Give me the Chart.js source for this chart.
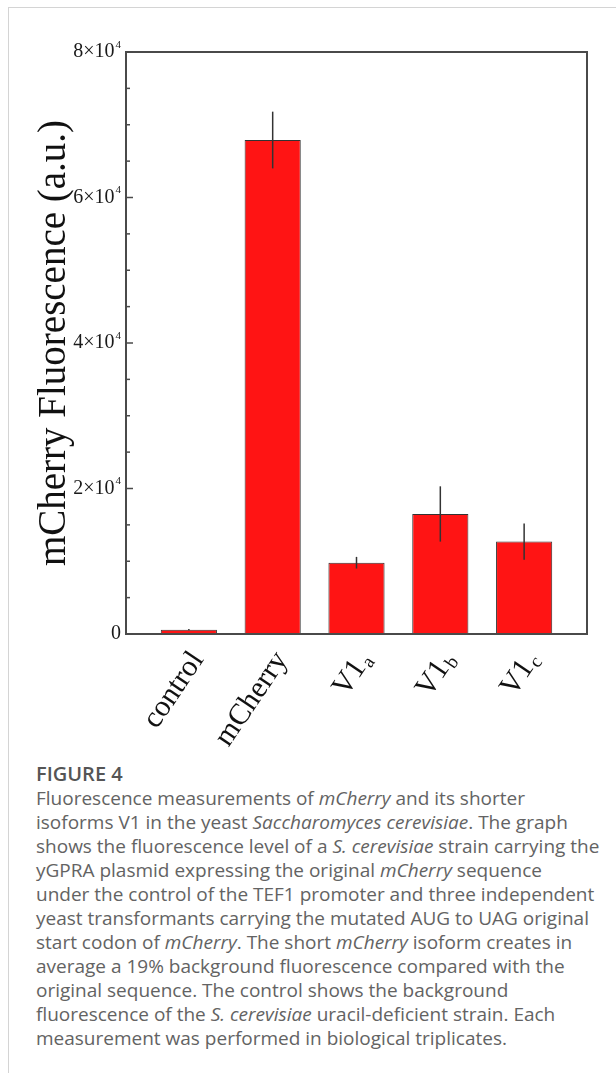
<!DOCTYPE html>
<html>
<head>
<meta charset="utf-8">
<script src="https://cdn.jsdelivr.net/npm/chart.js@4.4.1/dist/chart.umd.min.js"></script>
<style>
  html, body { margin: 0; padding: 0; background: #fff; }
  body { width: 616px; height: 1073px; position: relative; overflow: hidden; }
  .card { position: absolute; left: 8px; top: 7px; right: 0; bottom: 0;
          border-top: 1px solid #d4d4d4; border-left: 1px solid #d4d4d4; }
  #wrap { position: absolute; left: 0; top: 0; width: 616px; height: 760px; }
  .caption { position: absolute; left: 36px; top: 762px; font-family: 'Open Sans', sans-serif;
             color: #636363; font-size: 19px; line-height: 24px; white-space: nowrap; }
  .caption .fig { font-weight: 600; font-size: 20px; color: #555; }
</style>
</head>
<body>
<div class="card"></div>
<div id="wrap"><canvas id="grafico" width="616" height="760"></canvas></div>
<div class="caption">
  <div class="fig">FIGURE 4</div>
  <div>Fluorescence measurements of <i>mCherry</i> and its shorter</div>
  <div>isoforms V1 in the yeast <i>Saccharomyces cerevisiae</i>. The graph</div>
  <div>shows the fluorescence level of a <i>S. cerevisiae</i> strain carrying the</div>
  <div>yGPRA plasmid expressing the original <i>mCherry</i> sequence</div>
  <div>under the control of the TEF1 promoter and three independent</div>
  <div>yeast transformants carrying the mutated AUG to UAG original</div>
  <div>start codon of <i>mCherry</i>. The short <i>mCherry</i> isoform creates in</div>
  <div>average a 19% background fluorescence compared with the</div>
  <div>original sequence. The control shows the background</div>
  <div>fluorescence of the <i>S. cerevisiae</i> uracil-deficient strain. Each</div>
  <div>measurement was performed in biological triplicates.</div>
</div>
<script>
// dados
const categorias = ['control', 'mCherry', 'V1', 'V1', 'V1'];
const subscritos = ['', '', 'a', 'b', 'c'];
const fluorescencia = [600, 67900, 9800, 16500, 12700];
const erros = [100, 3900, 800, 3800, 2500];
const ticksMaiores = [0, 20000, 40000, 60000, 80000];
const rotulosY = ['0', '2×10', '4×10', '6×10', '8×10'];
const expoentesY = ['', '4', '4', '4', '4'];

const SERIF = "'Liberation Serif', 'Times New Roman', serif";

// moldura, barras de erro, ticks internos e rótulos dos eixos
const molduraPlugin = {
  id: 'moldura',
  afterDatasetsDraw(chart) {
    const { ctx, chartArea: a, scales: { x, y } } = chart;
    ctx.save();

    // barras de erro
    ctx.strokeStyle = '#333';
    ctx.lineWidth = 1.5;
    fluorescencia.forEach((v, i) => {
      const px = x.getPixelForValue(i);
      ctx.beginPath();
      ctx.moveTo(px, y.getPixelForValue(v - erros[i]));
      ctx.lineTo(px, y.getPixelForValue(v + erros[i]));
      ctx.stroke();
    });

    // caixa
    ctx.strokeStyle = '#4a4a4a';
    ctx.lineWidth = 2;
    ctx.strokeRect(a.left, a.top, a.right - a.left, a.bottom - a.top);

    // ticks para dentro
    ctx.lineWidth = 1.5;
    y.ticks.forEach(t => {
      const py = y.getPixelForValue(t.value);
      const len = ticksMaiores.includes(t.value) ? 7 : 4;
      ctx.beginPath();
      ctx.moveTo(a.left, py);
      ctx.lineTo(a.left + len, py);
      ctx.stroke();
    });

    // rótulos do eixo y (com expoente)
    ctx.fillStyle = '#1a1a1a';
    ctx.textBaseline = 'middle';
    ticksMaiores.forEach((v, k) => {
      const py = y.getPixelForValue(v);
      ctx.font = `11px ${SERIF}`;
      const we = expoentesY[k] ? ctx.measureText(expoentesY[k]).width + 1 : 0;
      const xr = a.left - 5 - we;
      ctx.font = `20px ${SERIF}`;
      ctx.textAlign = 'right';
      ctx.fillText(rotulosY[k], xr, py);
      if (expoentesY[k]) {
        ctx.font = `11px ${SERIF}`;
        ctx.textAlign = 'left';
        ctx.fillText(expoentesY[k], xr + 1, py - 7);
      }
    });

    // rótulos do eixo x (com subscrito)
    ctx.fillStyle = '#111';
    ctx.textAlign = 'left';
    categorias.forEach((nome, i) => {
      const px = x.getPixelForValue(i);
      ctx.save();
      ctx.translate(px + 9, a.bottom + 21);
      ctx.rotate(-56 * Math.PI / 180);
      ctx.font = `30px ${SERIF}`;
      const w1 = ctx.measureText(nome).width;
      ctx.font = `19px ${SERIF}`;
      const w2 = subscritos[i] ? ctx.measureText(subscritos[i]).width + 1 : 0;
      ctx.font = `30px ${SERIF}`;
      ctx.fillText(nome, -(w1 + w2), 0);
      if (subscritos[i]) {
        ctx.font = `19px ${SERIF}`;
        ctx.fillText(subscritos[i], -w2 + 1, 7);
      }
      ctx.restore();
    });

    ctx.restore();
  }
};

const ctx = document.getElementById('grafico').getContext('2d');
new Chart(ctx, {
  type: 'bar',
  data: {
    datasets: [{
      data: fluorescencia.map((v, i) => ({ x: i, y: v })),
      backgroundColor: '#ff1414',
      borderColor: '#333',
      borderWidth: 1,
      barPercentage: 0.67,
      categoryPercentage: 1
    }]
  },
  options: {
    responsive: false,
    animation: false,
    layout: { padding: { top: 52, right: 29, left: 0, bottom: 0 } },
    plugins: { legend: { display: false }, tooltip: { enabled: false } },
    scales: {
      x: {
        type: 'linear',
        min: -0.75,
        max: 4.75,
        offset: false,
        grid: { display: false, offset: false },
        border: { display: false },
        ticks: { display: false },
        afterBuildTicks: s => { s.ticks = categorias.map((_, i) => ({ value: i })); },
        afterFit: s => { s.height = 126; }
      },
      y: {
        min: 0,
        max: 80000,
        grid: { display: false },
        border: { display: false },
        ticks: { display: false, stepSize: 5000, autoSkip: false },
        title: {
          display: true,
          text: 'mCherry Fluorescence (a.u.)',
          color: '#111',
          font: { family: SERIF, size: 39 },
          padding: { top: 31, bottom: 0 }
        },
        afterFit: s => { s.width = 126; }
      }
    }
  },
  plugins: [molduraPlugin]
});
</script>
</body>
</html>
